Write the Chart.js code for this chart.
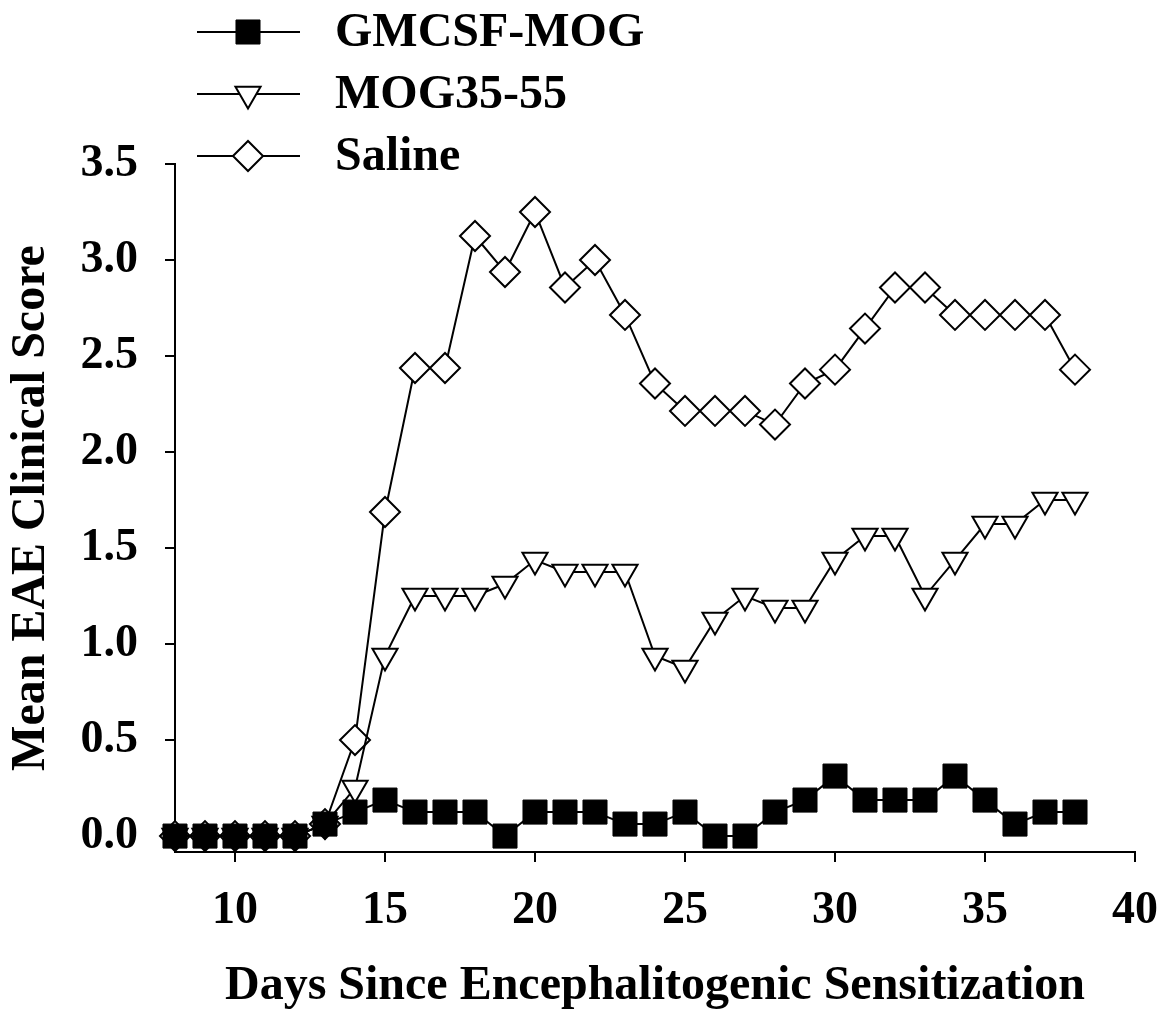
<!DOCTYPE html>
<html>
<head>
<meta charset="utf-8">
<script src="https://cdn.jsdelivr.net/npm/chart.js"></script>
<style>
  body { margin: 0; background: #fff; }
  #wrap { width: 1161px; height: 1018px; }
</style>
</head>
<body>
<div id="wrap"><canvas id="myChart" width="1161" height="1018"></canvas></div>
<script>
const days = [8, 9, 10, 11, 12, 13, 14, 15, 16, 17, 18, 19, 20, 21, 22, 23,
  24, 25, 26, 27, 28, 29, 30, 31, 32, 33, 34, 35, 36, 37, 38];

const gmcsfMog = [0, 0, 0, 0, 0, 0.0625, 0.125, 0.1875, 0.125, 0.125, 0.125, 0,
  0.125, 0.125, 0.125, 0.0625, 0.0625, 0.125, 0, 0, 0.125, 0.1875, 0.3125,
  0.1875, 0.1875, 0.1875, 0.3125, 0.1875, 0.0625, 0.125, 0.125];

const mog3555 = [0, 0, 0, 0, 0, 0.0625, 0.25, 0.9375, 1.25, 1.25, 1.25, 1.3125,
  1.4375, 1.375, 1.375, 1.375, 0.9375, 0.875, 1.125, 1.25, 1.1875, 1.1875,
  1.4375, 1.5625, 1.5625, 1.25, 1.4375, 1.625, 1.625, 1.75, 1.75];

const saline = [0, 0, 0, 0, 0, 0.0625, 0.5, 1.6875, 2.4375, 2.4375, 3.125, 2.9375,
  3.25, 2.857, 3.0, 2.714, 2.357, 2.214, 2.214, 2.214, 2.143, 2.357, 2.429,
  2.643, 2.857, 2.857, 2.714, 2.714, 2.714, 2.714, 2.429];

const seriesNames = ["GMCSF-MOG", "MOG35-55", "Saline"];
const xTicks = [10, 15, 20, 25, 30, 35, 40];
const yTicks = [0, 0.5, 1.0, 1.5, 2.0, 2.5, 3.0, 3.5];

const serif = "'Liberation Serif', 'Times New Roman', serif";

function toPoints(values) {
  return days.map((d, i) => ({ x: d, y: values[i] }));
}

// legend with a line through the marker, like the original figure
const lineLegend = {
  id: "lineLegend",
  afterDraw(chart) {
    const ctx = chart.ctx;
    const rows = [32, 94, 156];
    ctx.save();
    chart.data.datasets.forEach((ds, i) => {
      const y = rows[i];
      ctx.strokeStyle = "#000";
      ctx.lineWidth = 2;
      ctx.beginPath();
      ctx.moveTo(197, y);
      ctx.lineTo(300, y);
      ctx.stroke();
      ctx.fillStyle = ds.pointBackgroundColor;
      ctx.strokeStyle = "#000";
      ctx.lineWidth = ds.pointBorderWidth;
      Chart.helpers.drawPoint(ctx, {
        pointStyle: ds.pointStyle,
        radius: ds.pointRadius,
        rotation: ds.pointRotation || 0,
        borderWidth: ds.pointBorderWidth
      }, 248, y);
      ctx.fillStyle = "#000";
      ctx.font = "bold 48px " + serif;
      ctx.textBaseline = "middle";
      ctx.textAlign = "left";
      ctx.fillText(ds.label, 335, y + 2);
    });
    ctx.restore();
  }
};

const ctx = document.getElementById("myChart").getContext("2d");
const chart = new Chart(ctx, {
  type: "line",
  data: {
    datasets: [
      {
        label: seriesNames[0],
        data: toPoints(gmcsfMog),
        borderColor: "#000",
        borderWidth: 2,
        pointStyle: "rect",
        pointRadius: 17,
        pointBackgroundColor: "#000",
        pointBorderColor: "#000",
        pointBorderWidth: 1,
        clip: false
      },
      {
        label: seriesNames[1],
        data: toPoints(mog3555),
        borderColor: "#000",
        borderWidth: 2,
        pointStyle: "triangle",
        pointRotation: 180,
        pointRadius: 14.5,
        pointBackgroundColor: "#fff",
        pointBorderColor: "#000",
        pointBorderWidth: 2,
        clip: false
      },
      {
        label: seriesNames[2],
        data: toPoints(saline),
        borderColor: "#000",
        borderWidth: 2,
        pointStyle: "rectRot",
        pointRadius: 15,
        pointBackgroundColor: "#fff",
        pointBorderColor: "#000",
        pointBorderWidth: 2,
        clip: false
      }
    ]
  },
  options: {
    responsive: false,
    animation: false,
    layout: { padding: { left: 0, top: 164, right: 26, bottom: 0 } },
    plugins: {
      legend: { display: false },
      tooltip: { enabled: false }
    },
    scales: {
      x: {
        type: "linear",
        min: 8,
        max: 40,
        afterBuildTicks: s => { s.ticks = xTicks.map(v => ({ value: v })); },
        afterFit: s => { s.height = 166; s.paddingLeft = 0; s.paddingRight = 0; },
        ticks: {
          color: "#000",
          font: { family: serif, size: 46, weight: "bold" },
          padding: 22,
          maxRotation: 0,
          callback: v => String(v)
        },
        grid: { drawOnChartArea: false, color: "#000", lineWidth: 2, tickLength: 10 },
        border: { color: "#000", width: 2 },
        title: {
          display: true,
          text: "Days Since Encephalitogenic Sensitization",
          color: "#000",
          font: { family: serif, size: 48, weight: "bold" },
          padding: { top: 0, bottom: 3 }
        }
      },
      y: {
        min: -0.083,
        max: 3.5,
        afterBuildTicks: s => { s.ticks = yTicks.map(v => ({ value: v })); },
        afterFit: s => { s.width = 175; s.paddingTop = 0; s.paddingBottom = 0; },
        ticks: {
          color: "#000",
          font: { family: serif, size: 46, weight: "bold" },
          padding: 27,
          callback: v => v.toFixed(1)
        },
        grid: { drawOnChartArea: false, color: "#000", lineWidth: 2, tickLength: 10 },
        border: { color: "#000", width: 2 },
        title: {
          display: true,
          text: "Mean EAE Clinical Score",
          color: "#000",
          font: { family: serif, size: 48, weight: "bold" },
          padding: { top: 3, bottom: 0 }
        }
      }
    }
  },
  plugins: [lineLegend]
});
</script>
</body>
</html>
